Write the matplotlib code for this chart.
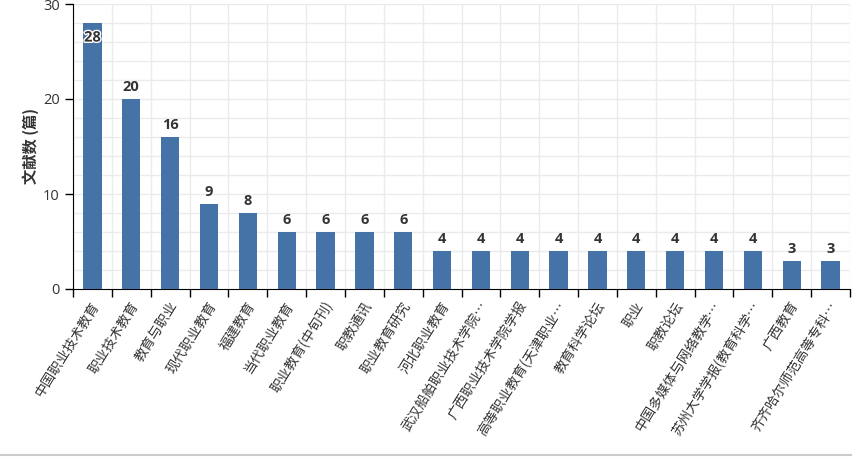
import numpy as np
import matplotlib
matplotlib.use('Agg')
import matplotlib.pyplot as plt
import matplotlib.patheffects as pe
from matplotlib.transforms import offset_copy

plt.rcParams['font.family'] = ['Noto Sans CJK SC', 'DejaVu Sans']

journals = ['中国职业技术教育', '职业技术教育', '教育与职业', '现代职业教育', '福建教育',
            '当代职业教育', '职业教育(中旬刊)', '职教通讯', '职业教育研究', '河北职业教育',
            '武汉船舶职业技术学院…', '广西职业技术学院学报', '高等职业教育(天津职业…',
            '教育科学论坛', '职业', '职教论坛', '中国多媒体与网络教学…',
            '苏州大学学报(教育科学…', '广西教育', '齐齐哈尔师范高等专科…']
counts = [28, 20, 16, 9, 8, 6, 6, 6, 6, 4, 4, 4, 4, 4, 4, 4, 4, 4, 3, 3]

bar_color = '#4572a7'
grid_color = '#ebebeb'
text_color = '#333333'
num_font = ['Open Sans', 'DejaVu Sans']

fig = plt.figure(figsize=(8.53, 4.57), dpi=100)
ax = fig.add_axes([73 / 853, 1 - 289 / 457, 777 / 853, 285 / 457])

n = len(journals)
x = np.arange(n)
ax.bar(x, counts, width=0.47, color=bar_color, zorder=3)

ax.set_xlim(-0.5, n - 0.5)
ax.set_ylim(0, 30)

# grid: vertical at band edges, horizontal every 2
for b in np.arange(-0.5, n + 0.5, 1):
    ax.axvline(b, color=grid_color, lw=1, zorder=1)
for g in range(2, 31, 2):
    ax.axhline(g, color=grid_color, lw=1, zorder=1)

for s in ['top', 'right']:
    ax.spines[s].set_visible(False)
ax.spines['left'].set_color('black')
ax.spines['bottom'].set_color('black')

ax.set_yticks([0, 10, 20, 30])
ax.set_yticklabels(['0', '10', '20', '30'], family=num_font)
ax.tick_params(axis='y', length=6, width=1, labelsize=10.5, colors='black', labelcolor=text_color)
ax.set_xticks(np.arange(-0.5, n + 0.5, 1))
ax.set_xticklabels([])
ax.tick_params(axis='x', length=6, width=1, colors='black')

ax.set_ylabel('文献数 (篇)', fontsize=11, fontweight='bold', color=text_color, labelpad=3)

# rotated category labels
trans = offset_copy(ax.get_xaxis_transform(), fig=fig, x=3, y=-10, units='points')
for xi, name in zip(x, journals):
    ax.text(xi, 0, name, transform=trans, rotation=58, rotation_mode='anchor',
            ha='right', va='center', fontsize=9.8, color='#333333')

# value labels
for xi, v in zip(x, counts):
    if v >= 25:
        ax.text(xi, v - 0.8, str(v), ha='center', va='top', fontsize=10.5,
                fontweight='bold', color=text_color, zorder=4, family=num_font,
                path_effects=[pe.withStroke(linewidth=2, foreground='white')])
    else:
        ax.text(xi, v + 0.5, str(v), ha='center', va='bottom', fontsize=10.5,
                fontweight='bold', color=text_color, zorder=4, family=num_font)

# bottom border line
fig.add_artist(plt.Line2D([0, 1], [1 - 455 / 457, 1 - 455 / 457], color='#cccccc', lw=1.5))

plt.savefig('out.png', dpi=100)
